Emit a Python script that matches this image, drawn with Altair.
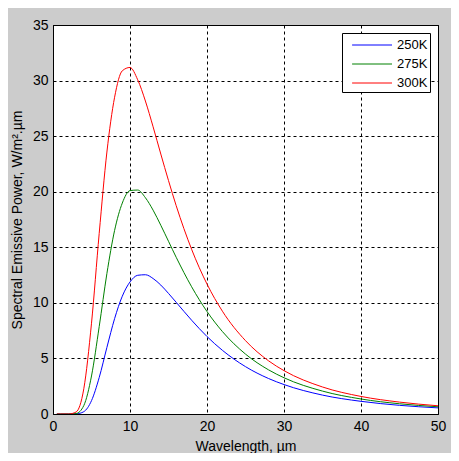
import pandas as pd
import altair as alt

# Wavelength (um) and spectral emissive power (W/m^2.um)
wavelength = [0.5, 1, 2, 3, 4, 5, 6, 7, 8, 9, 10, 11, 12, 13, 14, 15, 16, 18,
              20, 22, 25, 28, 30, 35, 40, 45, 50]
power_250 = [0, 0, 0, 0.01, 0.21, 1.20, 3.28, 5.99, 8.58, 10.60, 11.88, 12.48,
             12.53, 12.19, 11.60, 10.85, 10.05, 8.44, 6.97, 5.73, 4.26, 3.19,
             2.65, 1.70, 1.14, 0.78, 0.55]
power_275 = [0, 0, 0, 0.04, 0.76, 3.42, 7.86, 12.64, 16.52, 18.98, 20.10, 20.15,
             19.46, 18.34, 16.98, 15.54, 14.10, 11.45, 9.22, 7.42, 5.39, 3.97,
             3.26, 2.06, 1.35, 0.92, 0.65]
power_300 = [0, 0, 0, 0.18, 2.27, 8.17, 16.25, 23.57, 28.50, 30.88, 31.18, 30.07,
             28.16, 25.84, 23.39, 21.00, 18.74, 14.82, 11.69, 9.25, 6.60, 4.78,
             3.90, 2.43, 1.58, 1.07, 0.74]
series = ["250K", "275K", "300K"]
colors = ["#0000ff", "#008000", "#ff0000"]

rows = []
for name, vals in zip(series, [power_250, power_275, power_300]):
    for w, p in zip(wavelength, vals):
        rows.append({"Wavelength": w, "Power": p, "Temp": name})
df = pd.DataFrame(rows)

FONT = "Liberation Sans"

lines = (
    alt.Chart(df)
    .mark_line(strokeWidth=1, interpolate="monotone", clip=True)
    .encode(
        x=alt.X(
            "Wavelength:Q",
            scale=alt.Scale(domain=[0, 50], nice=False),
            axis=alt.Axis(
                values=[0, 10, 20, 30, 40, 50],
                title="Wavelength, µm",
                titlePadding=6,
                labelFlush=False,
            ),
        ),
        y=alt.Y(
            "Power:Q",
            scale=alt.Scale(domain=[0, 35], nice=False),
            axis=alt.Axis(
                values=[0, 5, 10, 15, 20, 25, 30, 35],
                title="Spectral Emissive Power, W/m².µm",
                titlePadding=8,
                labelFlush=False,
            ),
        ),
        color=alt.Color(
            "Temp:N",
            scale=alt.Scale(domain=series, range=colors),
            legend=alt.Legend(
                title=None,
                orient="none",
                legendX=289,
                legendY=8,
                # long horizontal line sample, like the MATLAB legend
                symbolType="M-0.2,0L4,0",
                symbolSize=361,
                symbolStrokeWidth=1,
                labelFontSize=13,
                labelFont=FONT,
                labelColor="black",
                fillColor="white",
                strokeColor="black",
                padding=2,
                rowPadding=2,
                labelOffset=33,
            ),
        ),
    )
)

chart = (
    lines.properties(
        width=385,
        height=389,
        background="#cccccc",
        padding={"left": 45, "top": 17, "right": 13, "bottom": 39},
        autosize=alt.AutoSizeParams(type="none"),
    )
    .configure_view(stroke="black", strokeWidth=1, fill="white")
    .configure_axis(
        grid=True,
        gridColor="black",
        gridDash=[3, 3],
        gridOpacity=1,
        gridWidth=1,
        domainColor="black",
        ticks=False,
        labelFont=FONT,
        labelFontSize=14,
        labelColor="black",
        labelPadding=5,
        titleFont=FONT,
        titleFontSize=14,
        titleFontWeight="normal",
        titleColor="black",
    )
)

chart.save("out.html", embed_options={"renderer": "svg", "actions": False})
